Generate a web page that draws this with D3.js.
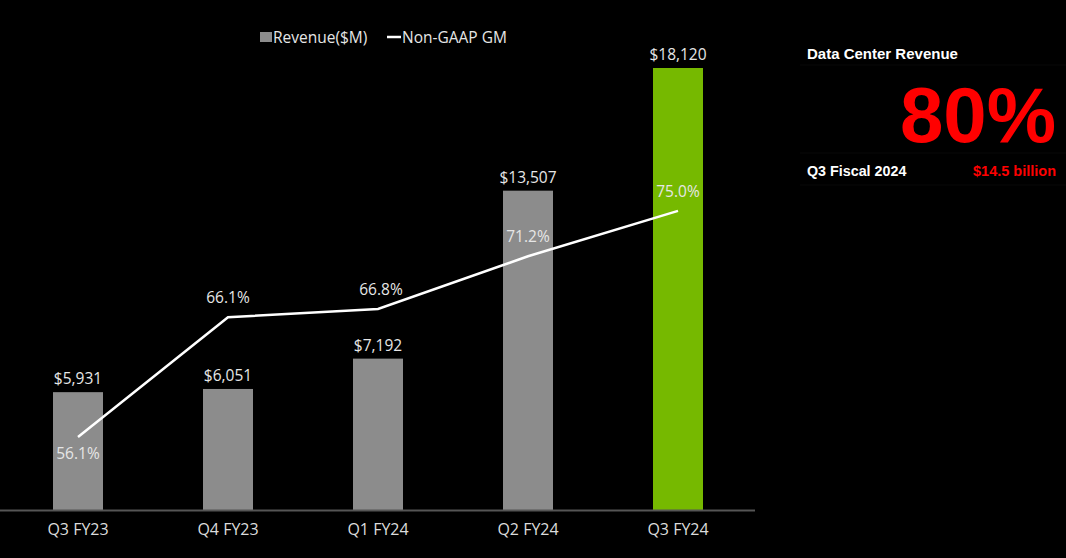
<!DOCTYPE html>
<html><head><meta charset="utf-8">
<script src="https://cdn.jsdelivr.net/npm/d3@7/dist/d3.min.js"></script>
<style>html,body{margin:0;padding:0;background:#000;}svg{display:block;}</style>
</head><body>
<svg id="c" width="1066" height="558"></svg>
<script>
const categories = ["Q3 FY23","Q4 FY23","Q1 FY24","Q2 FY24","Q3 FY24"];
const revenue = [5931, 6051, 7192, 13507, 18120];
const grossMargin = [56.1, 66.1, 66.8, 71.2, 75.0];
const revenueLabels = ["$5,931","$6,051","$7,192","$13,507","$18,120"];
const gmLabels = ["56.1%","66.1%","66.8%","71.2%","75.0%"];
const gmLabelSide = ["below","above","above","above","above"];
const legendItems = ["Revenue($M)","Non-GAAP GM"];
const panelTitle = "Data Center Revenue";
const panelBig = "80%";
const panelPeriod = "Q3 Fiscal 2024";
const panelAmount = "$14.5 billion";

const svg = d3.select("#c");
const font = "'Open Sans', 'Liberation Sans', sans-serif";
const baseY = 510;

const x = d3.scaleBand().domain(categories).range([3, 753]).paddingInner(2/3).paddingOuter(1/3);
const y = d3.scaleLinear().domain([1500, 18120]).range([baseY, 68]);
const y2 = d3.scaleLinear().domain([40, 80]).range([629.6, 151]);

// bars
svg.append("g").selectAll("rect").data(categories).join("rect")
  .attr("x", d => x(d)).attr("width", x.bandwidth())
  .attr("y", (d,i) => y(revenue[i])).attr("height", (d,i) => baseY - y(revenue[i]))
  .attr("fill", (d,i) => i === categories.length-1 ? "#76b900" : "#8c8c8c");

// axis
const xAxis = d3.axisBottom(x).tickSize(0).tickPadding(14);
const ax = svg.append("g").attr("transform", `translate(0,${baseY})`).call(xAxis);
ax.select(".domain").remove();
ax.selectAll("text").attr("fill", "#dcdcdc").attr("font-family", font).attr("font-size", 16);
svg.append("line").attr("x1", 0).attr("x2", 755).attr("y1", baseY+0.5).attr("y2", baseY+0.5)
  .attr("stroke", "#555").attr("stroke-width", 2);

// revenue labels
svg.append("g").selectAll("text").data(categories).join("text")
  .attr("x", d => x(d) + x.bandwidth()/2).attr("y", (d,i) => y(revenue[i]) - 8)
  .attr("text-anchor", "middle").attr("fill", "#e6e6e6")
  .attr("font-family", font).attr("font-size", 15.5)
  .text((d,i) => revenueLabels[i]);

// line
const line = d3.line().x((d,i) => x(categories[i]) + x.bandwidth()/2).y(d => y2(d));
svg.append("path").datum(grossMargin).attr("d", line)
  .attr("fill", "none").attr("stroke", "#fff").attr("stroke-width", 2.5);

svg.append("g").selectAll("text").data(grossMargin).join("text")
  .attr("x", (d,i) => x(categories[i]) + x.bandwidth()/2 + (i===2?3:0))
  .attr("y", (d,i) => gmLabelSide[i] === "below" ? y2(d) + 22 : y2(d) - 14)
  .attr("text-anchor", "middle").attr("fill", "#e6e6e6")
  .attr("font-family", font).attr("font-size", 15.5)
  .text((d,i) => gmLabels[i]);

// legend
const lg = svg.append("g");
lg.append("rect").attr("x", 260).attr("y", 32).attr("width", 12).attr("height", 10).attr("fill", "#8c8c8c");
lg.append("text").attr("x", 273).attr("y", 42.5).attr("fill", "#e6e6e6").attr("font-family", font).attr("font-size", 15.5).text(legendItems[0]);
lg.append("line").attr("x1", 387).attr("x2", 401).attr("y1", 37).attr("y2", 37).attr("stroke", "#fff").attr("stroke-width", 2.5);
lg.append("text").attr("x", 402).attr("y", 42.5).attr("fill", "#e6e6e6").attr("font-family", font).attr("font-size", 15.5).text(legendItems[1]);

// right panel
const pf = "'Liberation Sans', Arial, sans-serif";
const p = svg.append("g");
[65, 153, 185].forEach(yy => p.append("line").attr("x1", 800).attr("x2", 1066).attr("y1", yy).attr("y2", yy).attr("stroke", "#090909"));
p.append("text").attr("x", 807).attr("y", 59).attr("fill", "#fff").attr("font-family", pf).attr("font-weight", "bold").attr("font-size", 15).text(panelTitle);
p.append("text").attr("x", 1056).attr("y", 142).attr("text-anchor", "end").attr("fill", "#ff0000").attr("font-family", pf).attr("font-weight", "bold").attr("font-size", 78).text(panelBig);
p.append("text").attr("x", 807).attr("y", 176).attr("fill", "#fff").attr("font-family", pf).attr("font-weight", "bold").attr("font-size", 14.3).text(panelPeriod);
p.append("text").attr("x", 1056).attr("y", 176).attr("text-anchor", "end").attr("fill", "#ff0000").attr("font-family", pf).attr("font-weight", "bold").attr("font-size", 14.5).text(panelAmount);
</script>
</body></html>
